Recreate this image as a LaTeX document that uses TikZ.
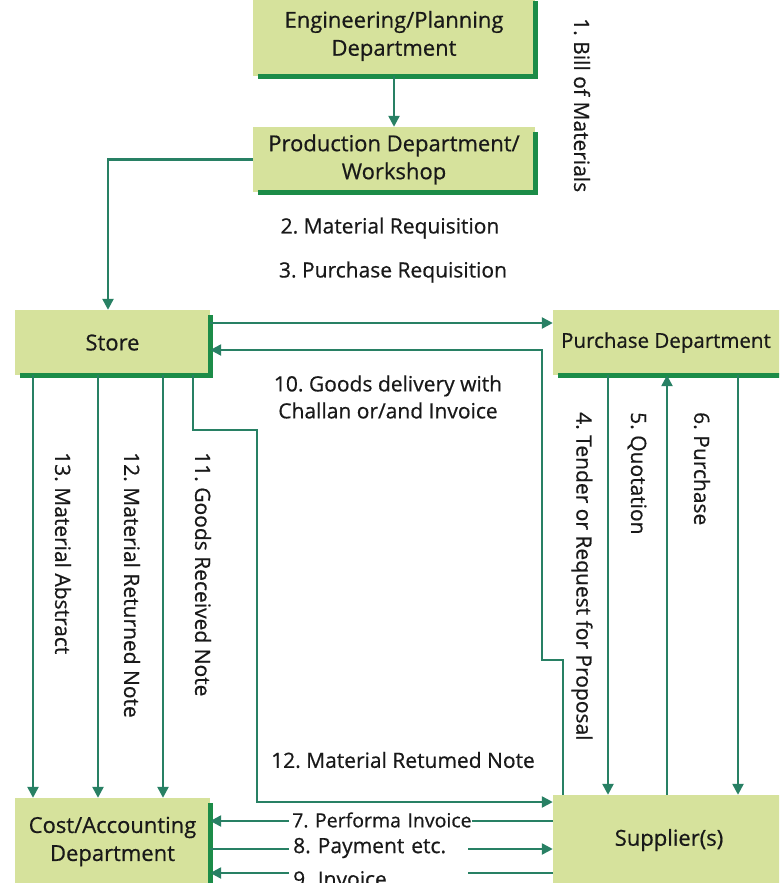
\documentclass[tikz,border=0pt]{standalone}
\usepackage{fontspec}
\setmainfont{Open Sans}[FakeBold=0.6]
\usetikzlibrary{arrows.meta}
\definecolor{boxfill}{RGB}{214,226,156}
\definecolor{boxshade}{RGB}{28,140,72}
\definecolor{flow}{RGB}{40,128,100}
\definecolor{ink}{RGB}{25,25,25}
\begin{document}
\frenchspacing
\begin{tikzpicture}[x=1pt,y=-1pt,
  box/.style={fill=boxfill, draw=none, inner sep=0pt, align=center, font=\fontsize{22}{28}\selectfont, text=ink},
  lbl/.style={font=\fontsize{21}{27}\selectfont, text=ink, inner sep=0pt},
  vlbl/.style={lbl, rotate=-90, anchor=west},
  flowline/.style={draw=flow, line width=2.4pt},
  arr/.style={flowline, -{Triangle[length=11pt,width=11pt]}},
  shade/.style={draw=boxshade, line width=5pt}]
\clip (0,0) rectangle (779,883);
\fill[white] (0,0) rectangle (779,883);

% boxes
\node[box, minimum width=282pt, minimum height=80pt] (eng) at (394,36) {Engineering/Planning\\Department};
\node[box, minimum width=282pt, minimum height=65pt] (prod) at (394,159.5) {Production Department/\\Workshop};
\node[box, minimum width=195pt, minimum height=65pt] (store) at (112.5,342.5) {Store};
\node[box, minimum width=232pt, minimum height=65pt, font=\fontsize{20.5}{28}\selectfont] (purch) at (669,342.5) {\hspace*{-6pt}Purchase Department};
\node[box, minimum width=195pt, minimum height=87pt] (cost) at (112.5,841.5) {Cost/Accounting\\Department};
\node[box, minimum width=232pt, minimum height=90pt] (supp) at (669,840) {Supplier(s)};

\foreach \b in {eng,prod,store,purch,cost,supp}
  \draw[shade] ([xshift=5pt]\b.south west) -- (\b.south east) -- ([yshift=-5pt]\b.north east);

% connectors
\draw[arr] (eng.south) -- (prod.north);
\draw[arr] (prod.west) -| ([xshift=-4.5pt]store.north);
\draw[arr] (store.east |- 0,323) -- (purch.west |- 0,323);
\draw[arr] (supp.north -| 563,0) -- (563,660) -- (542,660) -- (542,350) -- (store.east |- 0,350);
\draw[arr] (store.south -| 193,0) -- (193,430) -- (257,430) -- (257,802) -- (supp.west |- 0,802);
\draw[arr] (store.south -| 33,0) -- (cost.north -| 33,0);
\draw[arr] (store.south -| 98,0) -- (cost.north -| 98,0);
\draw[arr] (store.south -| 163,0) -- (cost.north -| 163,0);
\draw[arr] (purch.south -| 608,0) -- (supp.north -| 608,0);
\draw[arr] (supp.north -| 667,0) -- (purch.south -| 667,0);
\draw[arr] (purch.south -| 738,0) -- (supp.north -| 738,0);
\draw[arr] (supp.west |- 0,821) -- (cost.east |- 0,821);
\draw[arr] (cost.east |- 0,849) -- (supp.west |- 0,849);
\draw[arr] (supp.west |- 0,873) -- (cost.east |- 0,873);

% labels
\node[lbl, fill=white, anchor=west, text width=183pt, align=left, font=\fontsize{19.5}{27}\selectfont] (l7) at (289,820) {\hspace*{3pt}\mbox{7. Performa Invoice}};
\node[lbl, fill=white, anchor=west, text width=179pt, align=left] (l8) at (289,848) {\hspace*{4pt}\mbox{8. Payment etc.}};
\node[lbl, fill=white, anchor=west, text width=179pt, align=left] (l9) at (289,879) {\hspace*{4pt}\mbox{9. Invoice}};

\node[lbl] (l2) at (390,228) {2. Material Requisition};
\node[lbl] (l3) at (393,272) {3. Purchase Requisition};
\node[lbl, align=center] (l10) at (388,397) {10. Goods delivery with\\Challan or/and Invoice};
\node[lbl] (l12h) at (403,760) {12. Material Retumed Note};
\node[vlbl] (l1) at (582,18) {1. Bill of Materials};
\node[vlbl] (l4) at (582,412) {4. Tender or Request for Proposal};
\node[vlbl] (l5) at (637,412) {5. Quotation};
\node[vlbl] (l6) at (702,412) {6. Purchase};
\node[vlbl] (l11) at (203,452) {11. Goods Received Note};
\node[vlbl] (l12) at (132,452) {12. Material Returned Note};
\node[vlbl] (l13) at (63,452) {13. Material Abstract};
\end{tikzpicture}
\end{document}
